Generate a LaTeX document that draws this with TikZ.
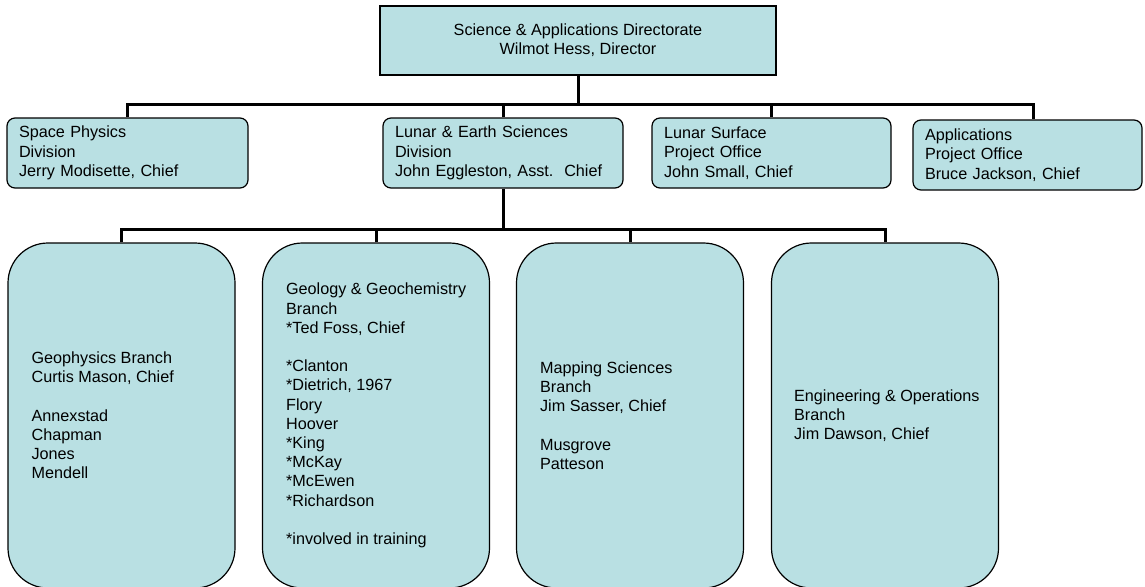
\documentclass[tikz,border=0pt]{standalone}
\usepackage{fontspec}
\setmainfont{Liberation Sans}
\usepackage{tikz}
\definecolor{boxfill}{RGB}{185,224,227}
\tikzstyle{dir}=[rectangle, draw, line width=1.2pt, fill=boxfill, minimum width=396pt, minimum height=69pt, align=center, inner sep=0pt]
\tikzstyle{div}=[rectangle, rounded corners=8pt, draw, line width=1.2pt, fill=boxfill, minimum height=70pt, inner xsep=12pt, inner ysep=0pt, align=left]
\tikzstyle{branch}=[rectangle, rounded corners=40pt, draw, line width=1.2pt, fill=boxfill, minimum width=227pt, minimum height=345pt]
\tikzstyle{names}=[anchor=west, align=left, inner sep=0pt]
\tikzstyle{edge}=[-, line width=3pt]

\begin{document}
\begin{tikzpicture}[x=1pt, y=-1pt, font=\fontsize{16.2}{19.2}\selectfont]
				\useasboundingbox (0,0) rectangle (1145,586);

				%The directorate
				\draw (578,40.5) node[dir] (sad) {Science \& Applications Directorate\\Wilmot Hess, Director};

				%The divisions and offices
				\draw (127.5,153) node[div, text width=217pt] (sp) {Space Physics\\Division\\Jerry Modisette, Chief};
				\draw (503,153) node[div, text width=216pt] (les) {Lunar \& Earth Sciences\\Division\\John Eggleston, Asst.\ \ Chief};
				\draw (771.5,153) node[div, text width=215pt] (lsp) {Lunar Surface\\Project Office\\John Small, Chief};
				\draw (1027.5,155) node[div, text width=205pt] (app) {Applications\\Project Office\\Bruce Jackson, Chief};

				%The branches
				\draw (121.5,415.5) node[branch] (b1) {};
				\draw (376,415.5) node[branch] (b2) {};
				\draw (630,415.5) node[branch] (b3) {};
				\draw (885,415.5) node[branch] (b4) {};

				\draw ([xshift=24pt]b1.west) node[names] (t1) {Geophysics Branch\\Curtis Mason, Chief\\[19.2pt]Annexstad\\Chapman\\Jones\\Mendell};
				\draw ([xshift=24pt]b2.west) node[names] (t2) {Geology \& Geochemistry\\Branch\\{}*Ted Foss, Chief\\[19.2pt]*Clanton\\{}*Dietrich, 1967\\Flory\\Hoover\\{}*King\\{}*McKay\\{}*McEwen\\{}*Richardson\\[19.2pt]*involved in training};
				\draw ([xshift=24pt]b3.west) node[names] (t3) {Mapping Sciences\\Branch\\Jim Sasser, Chief\\[19.2pt]Musgrove\\Patteson};
				\draw ([xshift=23pt]b4.west) node[names] (t4) {Engineering \& Operations\\Branch\\Jim Dawson, Chief};

				%The lines
				\coordinate (bar) at (578,104);
				\coordinate (bar2) at (503,229);
				\draw[edge] (sad.south) -- (bar);
				\draw[edge] (sp.north) |- ([xshift=5.5pt]app.north |- bar) -- ([xshift=5.5pt]app.north);
				\draw[edge] (les.north) -- (les.north |- bar);
				\draw[edge] (lsp.north) -- (lsp.north |- bar);
				\draw[edge] (les.south) -- (bar2);
				\draw[edge] (b1.north) |- (b4.north |- bar2) -- (b4.north);
				\draw[edge] (b2.north) -- (b2.north |- bar2);
				\draw[edge] (b3.north) -- (b3.north |- bar2);
			\end{tikzpicture}
\end{document}
